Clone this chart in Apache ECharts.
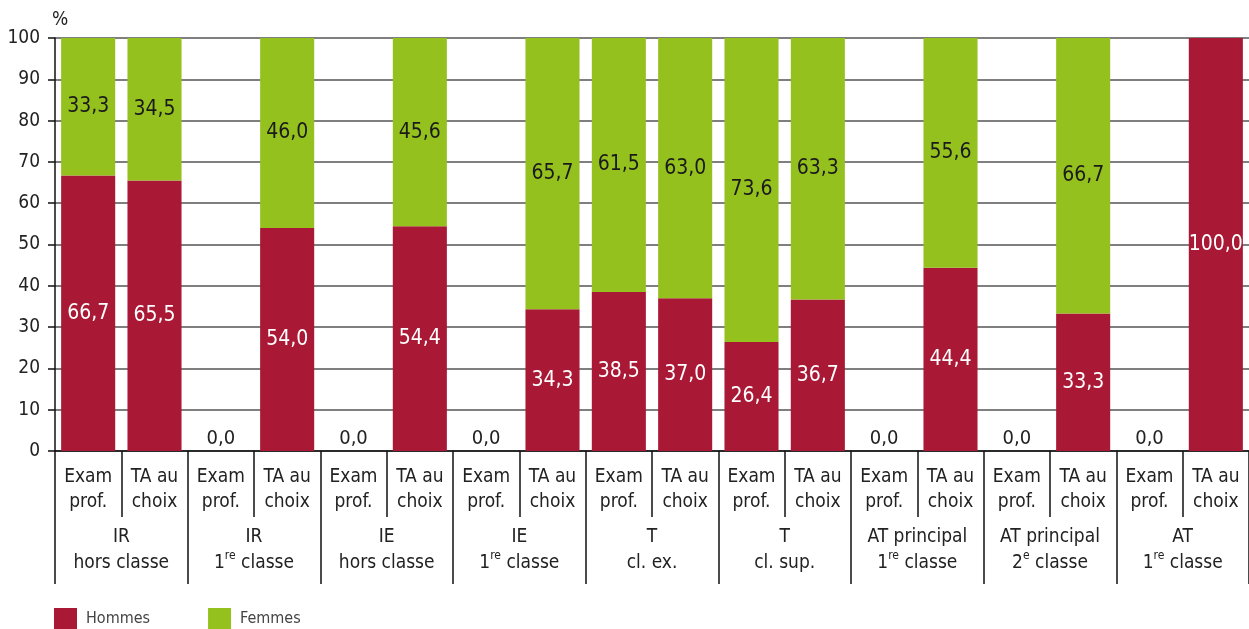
<!DOCTYPE html>
<html>
<head>
<meta charset="utf-8">
<script src="https://cdn.jsdelivr.net/npm/echarts@6/dist/echarts.min.js"></script>
<style>html,body{margin:0;padding:0;background:#fff}#c{width:1249px;height:629px}</style>
</head>
<body>
<div id="c"></div>
<script>
const subCategories = ['Exam\nprof.', 'TA au\nchoix', 'Exam\nprof.', 'TA au\nchoix', 'Exam\nprof.', 'TA au\nchoix',
  'Exam\nprof.', 'TA au\nchoix', 'Exam\nprof.', 'TA au\nchoix', 'Exam\nprof.', 'TA au\nchoix',
  'Exam\nprof.', 'TA au\nchoix', 'Exam\nprof.', 'TA au\nchoix', 'Exam\nprof.', 'TA au\nchoix'];
const groupLabels = [
  '{a|IR}\n{a|hors classe}',
  '{a|IR}\n{a|1}{s|re}{a| classe}',
  '{a|IE}\n{a|hors classe}',
  '{a|IE}\n{a|1}{s|re}{a| classe}',
  '{a|T}\n{a|cl. ex.}',
  '{a|T}\n{a|cl. sup.}',
  '{a|AT principal}\n{a|1}{s|re}{a| classe}',
  '{a|AT principal}\n{a|2}{s|e}{a| classe}',
  '{a|AT}\n{a|1}{s|re}{a| classe}'
];
const hommes = [66.7, 65.5, 0, 54.0, 0, 54.4, 0, 34.3, 38.5, 37.0, 26.4, 36.7, 0, 44.4, 0, 33.3, 0, 100.0];
const femmes = [33.3, 34.5, 0, 46.0, 0, 45.6, 0, 65.7, 61.5, 63.0, 73.6, 63.3, 0, 55.6, 0, 66.7, 0, 0];
const yTicks = [0, 10, 20, 30, 40, 50, 60, 70, 80, 90, 100];

const FONT = "'Liberation Sans Narrow', 'DejaVu Sans Condensed', 'Roboto', sans-serif";
const RED = '#A91834', GREEN = '#95C11F';
const fmt = v => Number(v).toFixed(1).replace('.', ',');

const chart = echarts.init(document.getElementById('c'), null, {renderer: 'canvas'});
chart.setOption({
  backgroundColor: '#fff',
  animation: false,
  textStyle: {fontFamily: FONT},
  grid: {left: 55, right: 0, top: 38, bottom: 178, containLabel: false},
  legend: {
    left: 54, top: 608, padding: 0, itemWidth: 23, itemHeight: 21, itemGap: 58,
    icon: 'rect',
    textStyle: {fontFamily: FONT, fontSize: 16, color: '#444', padding: [8, 0, 0, 4]},
    data: ['Hommes', 'Femmes']
  },
  xAxis: [
    {
      type: 'category', data: subCategories, position: 'bottom',
      axisLine: {show: true, lineStyle: {color: '#111', width: 1.5}},
      axisTick: {show: true, interval: 0, length: 66, lineStyle: {color: '#111', width: 1.5}},
      axisLabel: {interval: 0, margin: 14, fontFamily: FONT, fontSize: 19, lineHeight: 25, color: '#222'}
    },
    {
      type: 'category', data: groupLabels, position: 'bottom', offset: 0,
      axisLine: {show: false},
      axisTick: {show: true, interval: 0, length: 133, lineStyle: {color: '#111', width: 1.5}},
      axisLabel: {
        interval: 0, margin: 73, color: '#222', fontFamily: FONT,
        rich: {
          a: {fontFamily: FONT, fontSize: 19, lineHeight: 26, color: '#222'},
          s: {fontFamily: FONT, fontSize: 12, lineHeight: 26, color: '#222', verticalAlign: 'top', padding: [0, 0, 9, 0]}
        }
      }
    }
  ],
  yAxis: {
    type: 'value', min: 0, max: 100, interval: 10,
    name: '%', nameLocation: 'end', nameGap: 8,
    nameTextStyle: {fontFamily: FONT, fontSize: 19, color: '#222', align: 'left', padding: [0, 0, 0, -3]},
    axisLine: {show: true, lineStyle: {color: '#111', width: 1.5}},
    axisTick: {show: true, length: 7, lineStyle: {color: '#111', width: 1.5}},
    axisLabel: {margin: 15, fontFamily: FONT, fontSize: 19, color: '#222',
      formatter: v => yTicks.includes(v) ? String(v) : ''},
    splitLine: {show: true, lineStyle: {color: '#555', width: 1.5}}
  },
  series: [
    {
      name: 'Hommes', type: 'bar', stack: 'tot', barCategoryGap: '18.5%',
      itemStyle: {color: RED},
      label: {show: true, position: 'inside', color: '#fff', fontFamily: FONT, fontSize: 21,
        formatter: p => fmt(p.value)},
      data: hommes.map(v => v === 0
        ? {value: v, label: {position: 'top', distance: 2, color: '#222', fontSize: 20}}
        : v)
    },
    {
      name: 'Femmes', type: 'bar', stack: 'tot',
      itemStyle: {color: GREEN},
      label: {show: true, position: 'inside', color: '#1a1a1a', fontFamily: FONT, fontSize: 21,
        formatter: p => p.value === 0 ? '' : fmt(p.value)},
      data: femmes
    }
  ]
});
</script>
</body>
</html>
